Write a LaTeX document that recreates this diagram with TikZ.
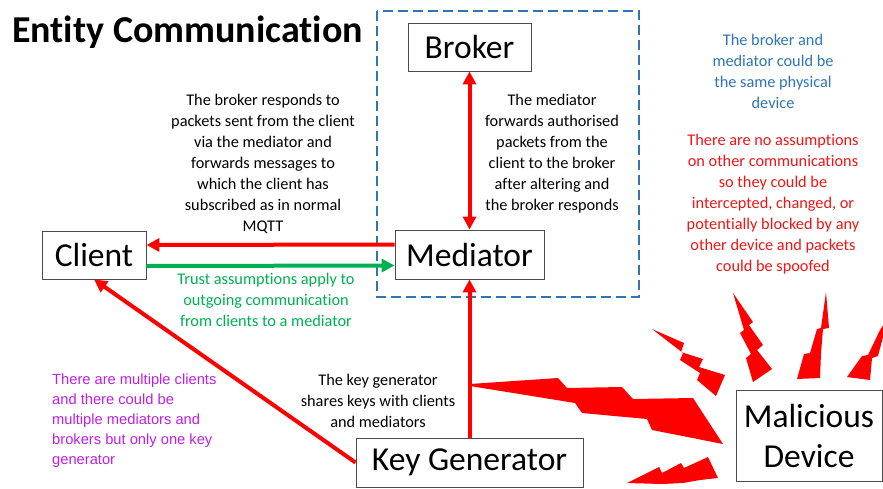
\documentclass[tikz,border=0pt]{standalone}
\usepackage{fontspec}
\setmainfont{Carlito}[Ligatures=NoCommon]
\newfontfamily\arialf{Liberation Sans}
\usetikzlibrary{arrows.meta}
\definecolor{arrred}{RGB}{255,0,0}
\definecolor{txtred}{RGB}{240,20,20}
\definecolor{trustgreen}{RGB}{0,176,80}
\definecolor{boxblue}{RGB}{46,117,182}
\definecolor{notepurple}{RGB}{190,30,230}
\tikzset{
  entity/.style={draw=black!70, line width=0.9pt, fill=white, inner sep=0pt,
    font=\fontsize{33.5}{40}\selectfont, align=center},
  note/.style={inner sep=0pt, align=center, font=\fontsize{16.3}{21}\selectfont},
  redarrow/.style={draw=arrred, line width=4pt, -{Triangle[length=13pt,width=13pt]}},
  redboth/.style={draw=arrred, line width=4pt, {Triangle[length=13pt,width=13pt]}-{Triangle[length=13pt,width=13pt]}},
  greenarrow/.style={draw=trustgreen, line width=4pt, -{Triangle[length=13pt,width=13pt]}},
  bolt/.style={fill=arrred, draw=none}
}
\begin{document}
\begin{tikzpicture}[x=1pt,y=-1pt]
\useasboundingbox (0,0) rectangle (883,488);
% dashed group
\draw[boxblue, line width=1.8pt, dash pattern=on 10pt off 5pt] (377,11) rectangle (639,297);
% title
\node[anchor=base west, inner sep=0pt, font=\bfseries\fontsize{38}{42}\selectfont] (title) at (12,42) {Entity Communication};
% entities
\node[entity, minimum width=104pt, minimum height=48pt] (client) at (94,255) {Client};
\node[entity, minimum width=149pt, minimum height=49pt] (mediator) at (469.5,254.5) {Mediator};
\node[entity, minimum width=123pt, minimum height=48pt] (broker) at (469.5,47) {Broker};
\node[entity, minimum width=227pt, minimum height=49pt] (keygen) at (469.5,462.5) {Key Generator};
% lightning bolts
\draw[bolt] (470,384) -- (558,378) -- (567,388) -- (622,387) -- (633,399) -- (693,398) -- (723,444) -- (652,430) -- (647,419) -- (582,413) -- (575,403) -- (470,386) -- cycle;
\draw[bolt] (652,329) -- (684,343) -- (681,352) -- (703,359) -- (699,367) -- (725,375) -- (716,396) -- (697,380) -- (700,373) -- (680,360) -- (683,353) -- cycle;
\draw[bolt] (733,293) -- (753,322) -- (749,325) -- (763,345) -- (757,350) -- (772,369) -- (753,382) -- (746,358) -- (751,354) -- (740,333) -- (744,330) -- cycle;
\draw[bolt] (826,292) -- (829,328) -- (823,329) -- (821,353) -- (820,378) -- (797,379) -- (804,354) -- (810,353) -- (817,329) -- (821,328) -- cycle;
\draw[bolt] (847,377) -- (862,356) -- (868,355) -- (880,330) -- (890,315) -- (890,330) -- (883,337) -- (878,356) -- (872,358) -- (870,380) -- cycle;
\draw[bolt] (627,483) -- (659,467) -- (662,473) -- (681,463) -- (684,468) -- (708,457) -- (718,478) -- (700,480) -- (683,483) -- (662,484) -- cycle;
\node[entity, minimum width=146pt, minimum height=91pt] (malicious) at (809,435.5) {Malicious\\Device};
% connectors
\draw[redarrow] ([yshift=10pt]mediator.west) -- ([yshift=10pt]client.east);
\draw[greenarrow] ([yshift=-11pt]client.east) -- ([yshift=-11pt]mediator.west);
\draw[redboth] (broker.south) -- (mediator.north);
\draw[redarrow] (keygen.north) -- (mediator.south);
\draw[redarrow] (keygen.west) -- (client.south);
% notes
\node[note] (n1) at (263,164) {The broker responds to\\packets sent from the client\\via the mediator and\\forwards messages to\\which the client has\\subscribed as in normal\\MQTT};
\node[note] (n2) at (552,153.5) {The mediator\\forwards authorised\\packets from the\\client to the broker\\after altering and\\the broker responds};
\node[note, text=trustgreen] (n3) at (266,300) {Trust assumptions apply to\\outgoing communication\\from clients to a mediator};
\node[note, text=boxblue] (n4) at (773,71) {The broker and\\mediator could be\\the same physical\\device};
\node[note, text=txtred] (n5) at (773,204) {There are no assumptions\\on other communications\\so they could be\\intercepted, changed, or\\potentially blocked by any\\other device and packets\\could be spoofed};
\node[note] (n6) at (378,401) {The key generator\\shares keys with clients\\and mediators};
\node[inner sep=0pt, align=left, anchor=west, text=notepurple, font=\arialf\fontsize{14.7}{20}\selectfont] (n7) at (52,421) {There are multiple clients\\and there could be\\multiple mediators and\\brokers but only one key\\generator};
\end{tikzpicture}
\end{document}
